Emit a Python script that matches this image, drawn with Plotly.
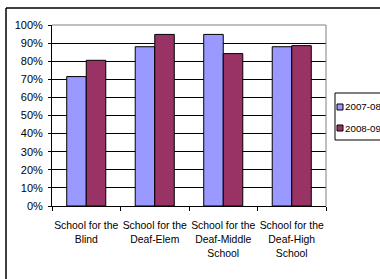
import plotly.graph_objects as go

categories = ["School for the<br>Blind", "School for the<br>Deaf-Elem",
              "School for the<br>Deaf-Middle<br>School", "School for the<br>Deaf-High<br>School"]
series_names = ["2007-08", "2008-09"]
values_2007 = [0.715, 0.88, 0.948, 0.88]
values_2008 = [0.805, 0.948, 0.842, 0.886]
colors = ["#9999FF", "#993366"]
y_ticks = [i / 10 for i in range(11)]

W, H = 420, 292
L, R_PX, T, B_PX = 52, 326, 25, 206
pw, ph = R_PX - L, B_PX - T

def px_x(x):
    return (x - L) / pw

def px_y(y):
    return (B_PX - y) / ph

fig = go.Figure()
for name, vals, col in zip(series_names, [values_2007, values_2008], colors):
    fig.add_trace(go.Bar(x=categories, y=vals, name=name,
                         marker=dict(color=col, line=dict(color="black", width=1))))

fam = "Arial, Liberation Sans, sans-serif"
font = dict(family=fam, size=11, color="black")
fig.update_layout(
    width=W, height=H,
    margin=dict(l=L, r=W - R_PX, t=T, b=H - B_PX, pad=0),
    paper_bgcolor="white", plot_bgcolor="white",
    barmode="group", bargap=0.43, bargroupgap=0,
    showlegend=False, font=font,
    xaxis=dict(showline=True, linecolor="black", linewidth=1, ticks="outside",
               tickson="boundaries", ticklen=4, tickcolor="black",
               ticklabelstandoff=10, showgrid=False, tickangle=0,
               tickfont=dict(family=fam, size=10.4, color="black")),
    yaxis=dict(range=[0, 1], tickvals=y_ticks, tickformat=".0%", showline=True,
               linecolor="black", linewidth=1, ticks="outside", ticklen=3,
               tickcolor="black", showgrid=True, gridcolor="black", gridwidth=1,
               zeroline=False, ticklabelstandoff=3),
)

shapes = []
shapes.append(dict(type="line", xref="paper", yref="paper", x0=0, x1=1, y0=1, y1=1,
                   line=dict(color="#808080", width=1), layer="above"))
shapes.append(dict(type="line", xref="paper", yref="paper", x0=1, x1=1, y0=0, y1=1,
                   line=dict(color="#808080", width=1), layer="above"))
# chart outer border (top and left)
shapes.append(dict(type="line", xref="paper", yref="paper",
                   x0=px_x(6), x1=px_x(W - 2), y0=px_y(8), y1=px_y(8),
                   line=dict(color="black", width=1.5), layer="above"))
shapes.append(dict(type="line", xref="paper", yref="paper",
                   x0=px_x(6), x1=px_x(6), y0=px_y(8), y1=px_y(H - 2),
                   line=dict(color="black", width=1.5), layer="above"))
shapes.append(dict(type="rect", xref="paper", yref="paper",
                   x0=px_x(335), x1=px_x(395), y0=px_y(93), y1=px_y(140),
                   line=dict(color="black", width=1), fillcolor="white", layer="above"))
annotations = []
for i, (name, col) in enumerate(zip(series_names, colors)):
    cy = 107 + 21 * i
    shapes.append(dict(type="rect", xref="paper", yref="paper",
                       x0=px_x(337), x1=px_x(343), y0=px_y(cy - 3), y1=px_y(cy + 3),
                       line=dict(color="black", width=1), fillcolor=col, layer="above"))
    annotations.append(dict(xref="paper", yref="paper", x=px_x(343), y=px_y(cy),
                            text=name, showarrow=False, xanchor="left", yanchor="middle",
                            font=dict(family=fam, size=9.8, color="black")))
fig.update_layout(shapes=shapes, annotations=annotations)

fig.write_html("out.html", config={"displayModeBar": False},
               post_script="document.body.style.overflow='hidden';document.body.style.margin='0';")
